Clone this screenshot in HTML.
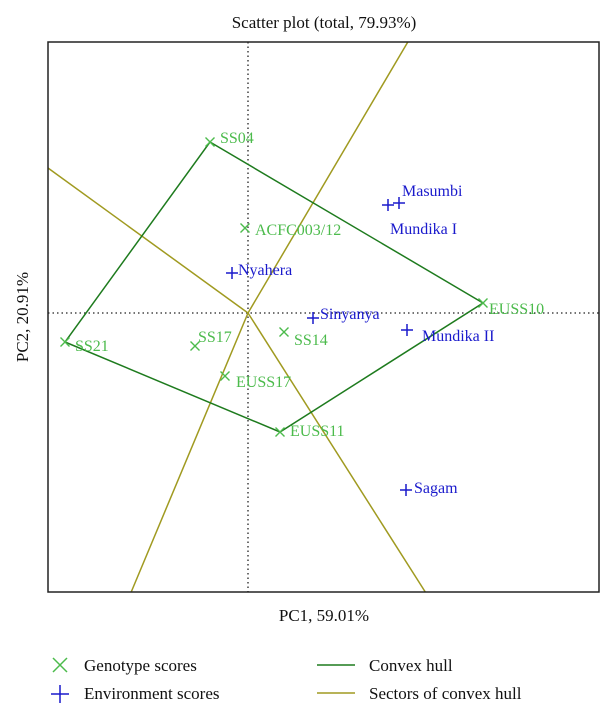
<!DOCTYPE html>
<html><head><meta charset="utf-8">
<style>
html,body{margin:0;padding:0;background:#fff;}
svg{display:block;font-family:"Liberation Serif",serif;}
</style></head>
<body>
<svg id="chart" width="614" height="718" viewBox="0 0 614 718" xmlns="http://www.w3.org/2000/svg">
  <text x="324" y="28" font-size="17" text-anchor="middle" fill="#111">Scatter plot (total, 79.93%)</text>
  <g id="plot"></g>
  <rect x="48" y="42" width="551" height="550" fill="none" stroke="#222" stroke-width="1.5"/>
  <text x="324" y="621" font-size="17" text-anchor="middle" fill="#111">PC1, 59.01%</text>
  <text x="0" y="0" font-size="17" text-anchor="middle" fill="#111" transform="translate(28,317) rotate(-90)">PC2, 20.91%</text>
  <g>
    <g>
      <path d="M53,658 L67,672 M67,658 L53,672" stroke="#4cbb4c" stroke-width="1.5"/>
      <text x="84" y="671" font-size="17" fill="#111">Genotype scores</text>
    </g>
    <g>
      <path d="M60,685 L60,703 M51,694 L69,694" stroke="#1a1acc" stroke-width="1.5"/>
      <text x="84" y="699" font-size="17" fill="#111">Environment scores</text>
    </g>
    <g>
      <line x1="317" y1="665" x2="355" y2="665" stroke="#1e7b1e" stroke-width="1.5"/>
      <text x="369" y="671" font-size="17" fill="#111">Convex hull</text>
    </g>
    <g>
      <line x1="317" y1="693" x2="355" y2="693" stroke="#a09a20" stroke-width="1.5"/>
      <text x="369" y="699" font-size="17" fill="#111">Sectors of convex hull</text>
    </g>
  </g>
</svg>
<script>
const genotypeNames = ["SS04","ACFC003/12","SS21","SS17","SS14","EUSS17","EUSS11","EUSS10"];
const genotypePC1 = [-0.76,-0.06,-3.66,-1.06,0.72,-0.46,0.64,4.70];
const genotypePC2 = [3.42,1.70,-0.58,-0.66,-0.38,-1.26,-2.38,0.20];
const envNames = ["Masumbi","Mundika I","Nyahera","Sinyanya","Mundika II","Sagam"];
const envPC1 = [3.02,2.80,-0.32,1.30,3.18,3.16];
const envPC2 = [2.20,2.16,0.80,-0.10,-0.34,-3.54];
const hullOrder = ["SS04","EUSS10","EUSS11","SS21"];

const X0=48,X1=599,Y0=42,Y1=592;
const xMin=-4,xMax=7.02,yMin=-5.58,yMax=5.42;
function sx(v){return X0+(v-xMin)/(xMax-xMin)*(X1-X0);}
function sy(v){return Y1-(v-yMin)/(yMax-yMin)*(Y1-Y0);}
const NS="http://www.w3.org/2000/svg";
const g=document.getElementById('plot');
function mk(tag,attrs){const e=document.createElementNS(NS,tag);for(const k in attrs)e.setAttribute(k,attrs[k]);g.appendChild(e);return e;}

// reference dotted lines
let e=mk('line',{x1:sx(0),y1:Y0,x2:sx(0),y2:Y1,stroke:'#222','stroke-width':1.3,'stroke-dasharray':'1.5,3'});


e=mk('line',{x1:X0,y1:sy(0),x2:X1,y2:sy(0),stroke:'#222','stroke-width':1.3,'stroke-dasharray':'1.5,3'});



// hull
const hp=hullOrder.map(n=>{const i=genotypeNames.indexOf(n);return [genotypePC1[i],genotypePC2[i]];});
// sectors: perpendicular from origin to each hull edge, extended to frame
for(let k=0;k<hp.length;k++){
  const a=hp[k],b=hp[(k+1)%hp.length];
  const dx=b[0]-a[0],dy=b[1]-a[1];
  const t=-(a[0]*dx+a[1]*dy)/(dx*dx+dy*dy);
  const fx=a[0]+t*dx,fy=a[1]+t*dy;
  let s=1e9;
  if(fx>0)s=Math.min(s,(xMax)/fx); if(fx<0)s=Math.min(s,xMin/fx);
  if(fy>0)s=Math.min(s,yMax/fy); if(fy<0)s=Math.min(s,yMin/fy);
  e=mk('line',{x1:sx(0),y1:sy(0),x2:sx(fx*s),y2:sy(fy*s),stroke:'#a09a20','stroke-width':1.5});
  
  
}
e=mk('polygon',{points:hp.map(p=>sx(p[0])+','+sy(p[1])).join(' '),fill:'none',stroke:'#1e7b1e','stroke-width':1.5});



// label offsets (layout only)
const gLab=[[10,-5],[10,1],[10,3],[3,-10],[10,7],[11,5],[10,-2],[6,5]];
const eLab=[[3,-13],[2,23],[6,-4],[7,-5],[15,5],[8,-3]];
for(let i=0;i<genotypeNames.length;i++){
  const x=sx(genotypePC1[i]),y=sy(genotypePC2[i]);
  e=mk('path',{d:`M${x-4.5},${y-4.5}L${x+4.5},${y+4.5}M${x+4.5},${y-4.5}L${x-4.5},${y+4.5}`,stroke:'#4cbb4c','stroke-width':1.4});
  
  
  const t=mk('text',{x:x+gLab[i][0],y:y+gLab[i][1]+6,'font-size':16,fill:'#4cbb4c'});
  t.textContent=genotypeNames[i];
  
  
}
for(let i=0;i<envNames.length;i++){
  const x=sx(envPC1[i]),y=sy(envPC2[i]);
  e=mk('path',{d:`M${x-6},${y}L${x+6},${y}M${x},${y-6}L${x},${y+6}`,stroke:'#1a1acc','stroke-width':1.5});
  
  
  const t=mk('text',{x:x+eLab[i][0],y:y+eLab[i][1]+6,'font-size':16,fill:'#1a1acc'});
  t.textContent=envNames[i];
  
  
}
</script>
</body></html>
